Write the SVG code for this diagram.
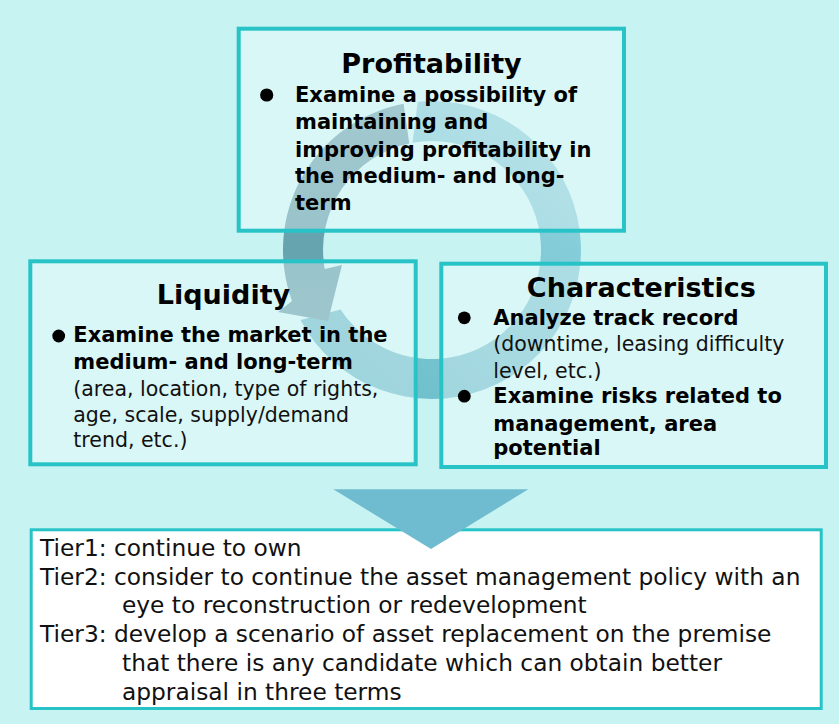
<svg xmlns="http://www.w3.org/2000/svg" width="839" height="724" viewBox="0 0 839 724">
  <style>
    .panel { fill: #ffffff; fill-opacity: 0.34; stroke: #27c3c6; stroke-width: 4; }
    .result { fill: #ffffff; stroke: #27c3c6; stroke-width: 3; }
    .title { font-family: "DejaVu Sans", sans-serif; font-weight: bold; font-size: 27px; fill: #000; text-anchor: middle; }
    .b { font-family: "DejaVu Sans", sans-serif; font-weight: bold; font-size: 21px; fill: #000; }
    .r { font-family: "DejaVu Sans", sans-serif; font-size: 20.5px; fill: #111; }
    .tier { font-family: "DejaVu Sans", sans-serif; font-size: 23.3px; fill: #111; }
    .dot { fill: #000; }
  </style>
  <defs>
    <linearGradient id="lightArc" gradientUnits="userSpaceOnUse" x1="330" y1="390" x2="570" y2="120">
      <stop offset="0" stop-color="#6bbdca"/>
      <stop offset="1" stop-color="#8ed3dd"/>
    </linearGradient>
    <linearGradient id="darkArc" gradientUnits="userSpaceOnUse" x1="300" y1="110" x2="300" y2="320">
      <stop offset="0" stop-color="#72adb7"/>
      <stop offset="0.6" stop-color="#65a4af"/>
      <stop offset="1" stop-color="#6aa8b3"/>
    </linearGradient>
  </defs>

  <!-- background -->
  <rect x="0" y="0" width="839" height="724" fill="#c7f3f3"/>

  <!-- cycle arrows behind the three panels -->
  <g id="connectors">
    <path id="arc-return" fill="url(#lightArc)" d="M300.4,320 A149,149 0 1 0 417.7,101.7 L412.5,142.8 A109,109 0 1 1 340.6,309.4 Z"/>
    <path id="arc-down" fill="url(#darkArc)" d="M403.6,103.7 A149,149 0 0 0 292,301 L278,312 L328,321 L342,265 L324.7,268.9 A109,109 0 0 1 409.3,143.4 Z"/>
  </g>

  <g id="profitability">
    <rect class="panel" x="238.7" y="28.7" width="385.3" height="202"/>
    <text class="title" x="431.5" y="73.3">Profitability</text>
    <circle class="dot" cx="266.7" cy="95" r="6.6"/>
    <text class="b" x="295" y="101.7">Examine a possibility of</text>
    <text class="b" x="295" y="129.3">maintaining and</text>
    <text class="b" x="295" y="156.7">improving profitability in</text>
    <text class="b" x="295" y="183.3">the medium- and long-</text>
    <text class="b" x="295" y="210">term</text>
  </g>

  <g id="liquidity">
    <rect class="panel" x="30.3" y="261.3" width="385.4" height="203"/>
    <text class="title" x="223.5" y="304.3">Liquidity</text>
    <circle class="dot" cx="58.7" cy="336" r="6.4"/>
    <text class="b" x="73.3" y="341.7">Examine the market in the</text>
    <text class="b" x="73.3" y="369.3">medium- and long-term</text>
    <text class="r" x="73.3" y="395.7">(area, location, type of rights,</text>
    <text class="r" x="73.3" y="421.7">age, scale, supply/demand</text>
    <text class="r" x="73.3" y="446.7">trend, etc.)</text>
  </g>

  <g id="characteristics">
    <rect class="panel" x="441.3" y="263.7" width="384.7" height="203.3"/>
    <text class="title" x="641.3" y="296.7">Characteristics</text>
    <circle class="dot" cx="464.3" cy="317.8" r="6.4"/>
    <text class="b" x="493.3" y="325">Analyze track record</text>
    <text class="r" x="493.3" y="350.7">(downtime, leasing difficulty</text>
    <text class="r" x="493.3" y="377.7">level, etc.)</text>
    <circle class="dot" cx="464.3" cy="396.2" r="6.4"/>
    <text class="b" x="493.3" y="403.3">Examine risks related to</text>
    <text class="b" x="493.3" y="430.7">management, area</text>
    <text class="b" x="493.3" y="455">potential</text>
  </g>

  <g id="tiers">
    <rect class="result" x="31.2" y="529.8" width="790" height="178.7"/>
    <text class="tier" x="40" y="556">Tier1: continue to own</text>
    <text class="tier" x="40" y="584.5">Tier2: consider to continue the asset management policy with an</text>
    <text class="tier" x="122" y="613">eye to reconstruction or redevelopment</text>
    <text class="tier" x="40" y="642">Tier3: develop a scenario of asset replacement on the premise</text>
    <text class="tier" x="122" y="671">that there is any candidate which can obtain better</text>
    <text class="tier" x="122" y="699.5">appraisal in three terms</text>
  </g>

  <!-- downward arrow into the tier list -->
  <g id="flow-arrow">
    <polygon points="333.3,489.3 528.3,489.3 431,549" fill="#6fbcd0"/>
  </g>
</svg>
